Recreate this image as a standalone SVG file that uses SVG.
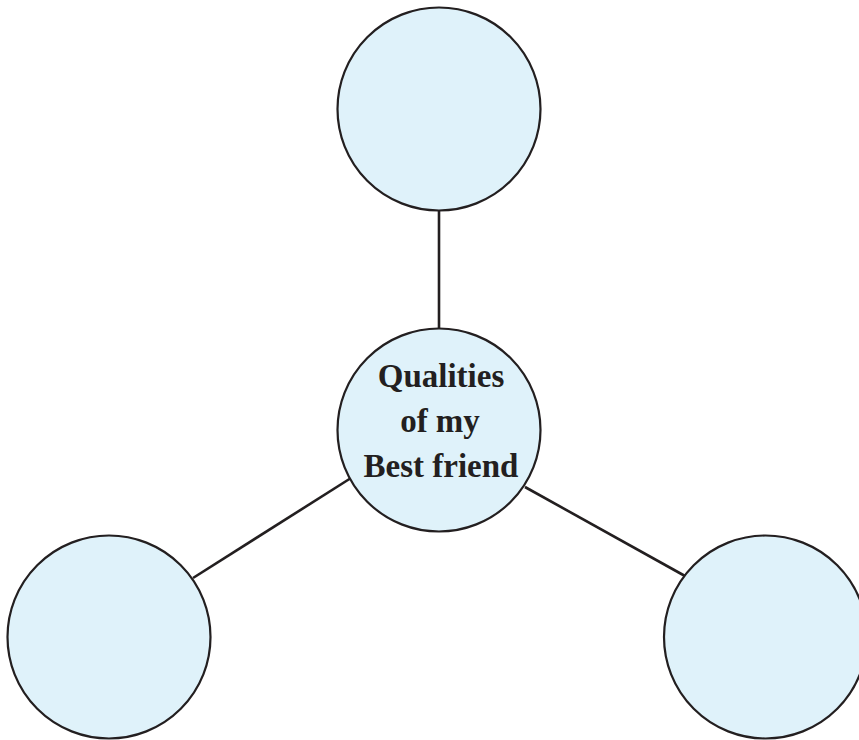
<svg xmlns="http://www.w3.org/2000/svg" width="859" height="740" viewBox="0 0 859 740">
<style>
.n{fill:#dff2fa;stroke:#231f20;stroke-width:2.2}
.c{stroke:#231f20;stroke-width:2.6;fill:none}
.t{font-family:"Liberation Serif","Times New Roman",serif;font-weight:bold;font-size:33px;fill:#231f20;text-anchor:middle}
</style>
<rect width="859" height="740" fill="#fff"/>
<g id="connectors">
<line class="c" x1="439" y1="211" x2="439" y2="329"/>
<line class="c" x1="351" y1="478" x2="193" y2="578"/>
<line class="c" x1="525" y1="487" x2="685" y2="576"/>
</g>
<g id="top"><circle class="n" cx="439" cy="109" r="101.5"/></g>
<g id="center"><circle class="n" cx="439" cy="430" r="101.5"/>
<text class="t" x="441" y="387">Qualities</text>
<text class="t" x="440" y="432">of my</text>
<text class="t" x="441" y="477">Best friend</text>
</g>
<g id="left"><circle class="n" cx="109" cy="637" r="101.5"/></g>
<g id="right"><circle class="n" cx="765.5" cy="637" r="101.5"/></g>
</svg>
